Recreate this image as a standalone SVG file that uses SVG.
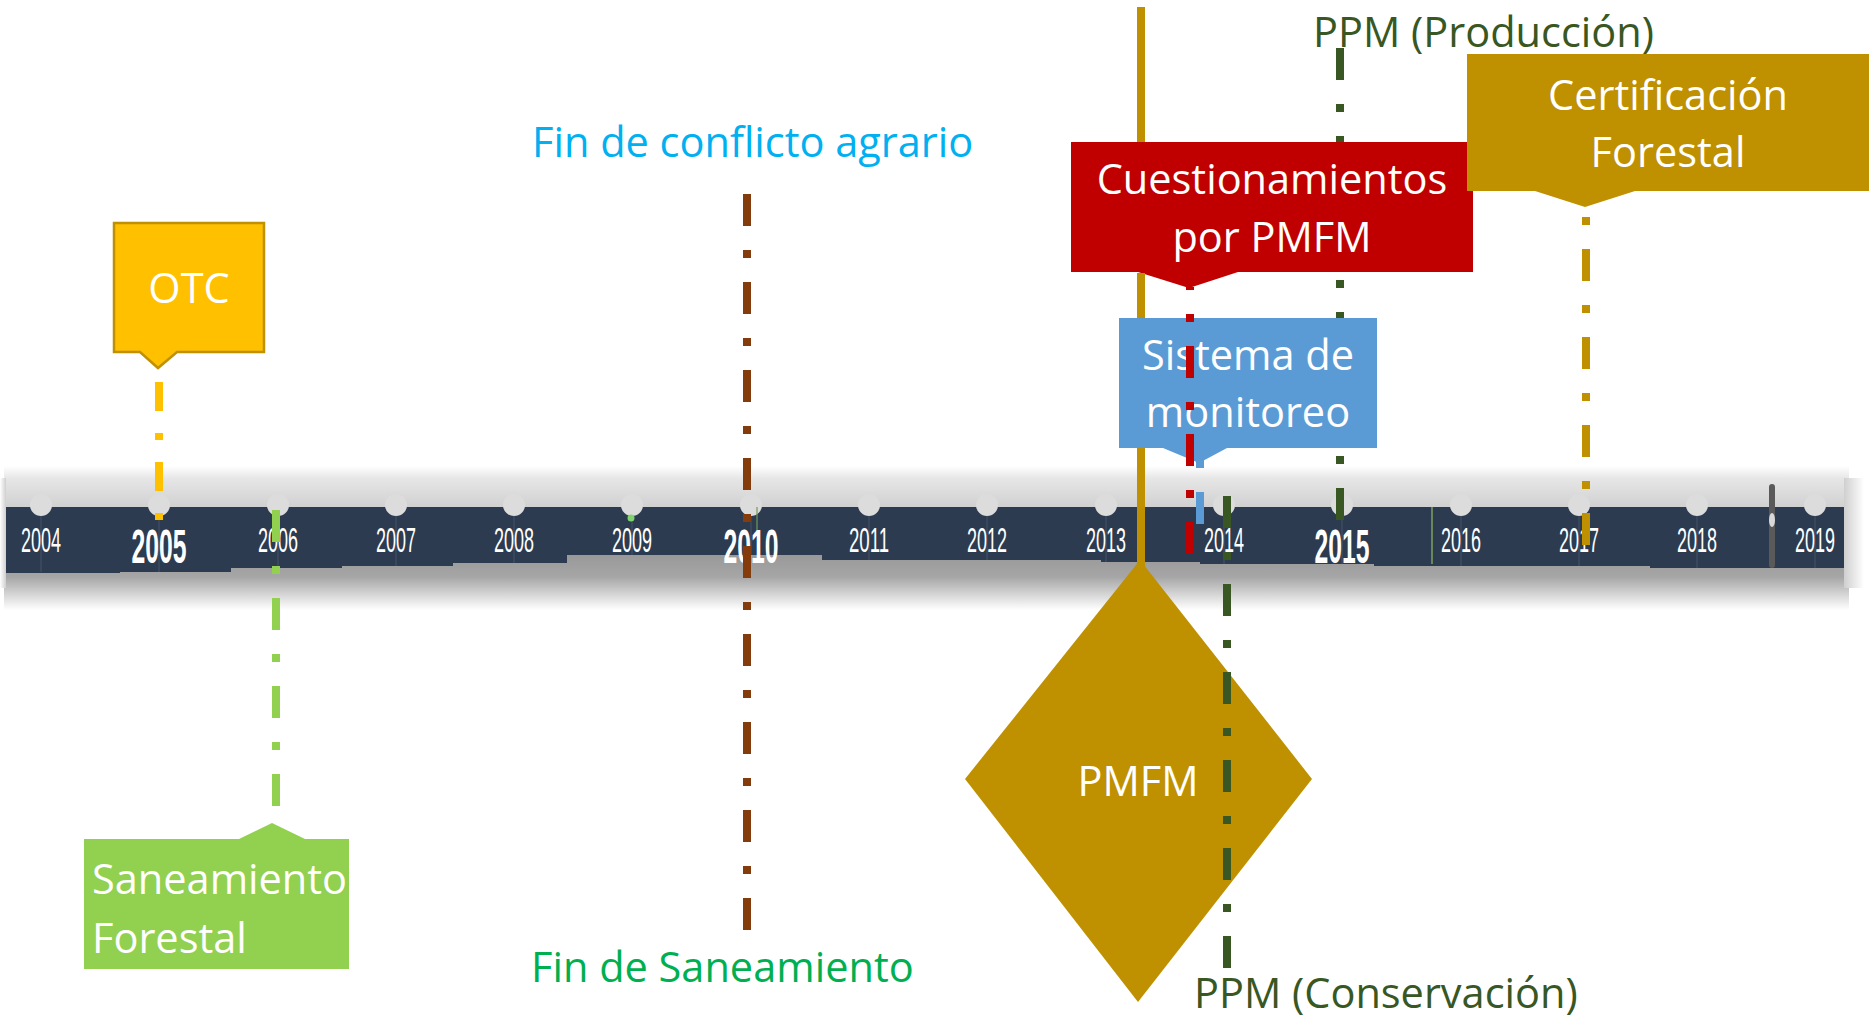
<svg xmlns="http://www.w3.org/2000/svg" width="1869" height="1019" viewBox="0 0 1869 1019">
<defs>
<linearGradient id="topGrad" x1="0" y1="0" x2="0" y2="1">
<stop offset="0" stop-color="#ffffff"/>
<stop offset="0.3" stop-color="#e6e6e6"/>
<stop offset="1" stop-color="#d0d0d0"/>
</linearGradient>
<linearGradient id="shadowGrad" x1="0" y1="0" x2="0" y2="1">
<stop offset="0" stop-color="#969696"/>
<stop offset="0.45" stop-color="#a6a6a6"/>
<stop offset="0.72" stop-color="#d2d2d2"/>
<stop offset="1" stop-color="#ffffff"/>
</linearGradient>
<linearGradient id="endGrad" x1="0" y1="0" x2="1" y2="0">
<stop offset="0" stop-color="#cfcfcf"/>
<stop offset="1" stop-color="#ffffff"/>
</linearGradient>
<linearGradient id="startGrad" x1="1" y1="0" x2="0" y2="0">
<stop offset="0" stop-color="#cfcfcf"/>
<stop offset="1" stop-color="#ffffff"/>
</linearGradient>
</defs>
<style>
.lbl{font-family:"Open Sans","Noto Sans","Liberation Sans",sans-serif;font-size:41.5px;}
.w{fill:#ffffff;}
.mid{text-anchor:middle;}
.yr{font-family:"Liberation Sans","DejaVu Sans",sans-serif;fill:#ffffff;text-anchor:middle;font-size:35px;}
.yrb{font-family:"Liberation Sans","DejaVu Sans",sans-serif;fill:#ffffff;text-anchor:middle;font-size:48px;font-weight:bold;}
.pin{fill:#dcdcdc;}
.tick{stroke:#46556a;stroke-width:1;}
.dd{fill:none;stroke-width:8;stroke-dasharray:32 24 8 24;}
</style>
<rect x="0" y="0" width="1869" height="1019" fill="#ffffff"/>

<g id="timeline-bar">
<rect x="4" y="550" width="1845" height="60" fill="url(#shadowGrad)"/>
<rect x="4" y="466" width="1845" height="42" fill="url(#topGrad)"/>
<rect x="1844" y="478" width="20" height="110" fill="url(#endGrad)"/>
<rect x="0" y="478" width="6" height="110" fill="url(#startGrad)"/>
<polygon fill="#2c3b50" points="6,507 1844,507 1844,568 1650,568 1650,566 1374,566 1374,564 1200,564 1200,562 1101,562 1101,560 822,560 822,555 567,555 567,563 453,563 453,566 342,566 342,568 231,568 231,572 120,572 120,573 6,573"/>
<g>
<line class="tick" x1="41" y1="515" x2="41" y2="572"/>
<line class="tick" x1="159" y1="515" x2="159" y2="572"/>
<line class="tick" x1="278" y1="515" x2="278" y2="568"/>
<line class="tick" x1="396" y1="515" x2="396" y2="566"/>
<line class="tick" x1="514" y1="515" x2="514" y2="563"/>
<line class="tick" x1="632" y1="515" x2="632" y2="555"/>
<line class="tick" x1="751" y1="515" x2="751" y2="555"/>
<line class="tick" x1="869" y1="515" x2="869" y2="560"/>
<line class="tick" x1="987" y1="515" x2="987" y2="560"/>
<line class="tick" x1="1106" y1="515" x2="1106" y2="562"/>
<line class="tick" x1="1224" y1="515" x2="1224" y2="564"/>
<line class="tick" x1="1342" y1="515" x2="1342" y2="564"/>
<line class="tick" x1="1461" y1="515" x2="1461" y2="566"/>
<line class="tick" x1="1579" y1="515" x2="1579" y2="566"/>
<line class="tick" x1="1697" y1="515" x2="1697" y2="568"/>
<line class="tick" x1="1815" y1="515" x2="1815" y2="568"/>
</g>
<g>
<circle class="pin" cx="41" cy="505" r="11"/>
<circle class="pin" cx="159" cy="505" r="11"/>
<circle class="pin" cx="278" cy="505" r="11"/>
<circle class="pin" cx="396" cy="505" r="11"/>
<circle class="pin" cx="514" cy="505" r="11"/>
<circle class="pin" cx="632" cy="505" r="11"/>
<circle class="pin" cx="751" cy="505" r="11"/>
<circle class="pin" cx="869" cy="505" r="11"/>
<circle class="pin" cx="987" cy="505" r="11"/>
<circle class="pin" cx="1106" cy="505" r="11"/>
<circle class="pin" cx="1224" cy="505" r="11"/>
<circle class="pin" cx="1342" cy="505" r="11"/>
<circle class="pin" cx="1461" cy="505" r="11"/>
<circle class="pin" cx="1579" cy="505" r="11"/>
<circle class="pin" cx="1697" cy="505" r="11"/>
<circle class="pin" cx="1815" cy="505" r="11"/>
</g>
<line x1="1432" y1="507" x2="1432" y2="564" stroke="#7ea35e" stroke-width="1.5"/>
<line x1="757" y1="507" x2="757" y2="536" stroke="#6f9a5a" stroke-width="1.2"/>
<circle cx="631" cy="518" r="3.5" fill="#7fd46c"/>
<rect x="1769" y="484" width="6" height="84" rx="3" fill="#5a5a5a"/>
<ellipse cx="1772" cy="520" rx="3" ry="7" fill="#d8d8d8"/>
<text class="yr" x="41" y="552" textLength="40" lengthAdjust="spacingAndGlyphs">2004</text>
<text class="yrb" x="159" y="563" textLength="55" lengthAdjust="spacingAndGlyphs">2005</text>
<text class="yr" x="278" y="552" textLength="40" lengthAdjust="spacingAndGlyphs">2006</text>
<text class="yr" x="396" y="552" textLength="40" lengthAdjust="spacingAndGlyphs">2007</text>
<text class="yr" x="514" y="552" textLength="40" lengthAdjust="spacingAndGlyphs">2008</text>
<text class="yr" x="632" y="552" textLength="40" lengthAdjust="spacingAndGlyphs">2009</text>
<text class="yrb" x="751" y="563" textLength="55" lengthAdjust="spacingAndGlyphs">2010</text>
<text class="yr" x="869" y="552" textLength="40" lengthAdjust="spacingAndGlyphs">2011</text>
<text class="yr" x="987" y="552" textLength="40" lengthAdjust="spacingAndGlyphs">2012</text>
<text class="yr" x="1106" y="552" textLength="40" lengthAdjust="spacingAndGlyphs">2013</text>
<text class="yr" x="1224" y="552" textLength="40" lengthAdjust="spacingAndGlyphs">2014</text>
<text class="yrb" x="1342" y="563" textLength="55" lengthAdjust="spacingAndGlyphs">2015</text>
<text class="yr" x="1461" y="552" textLength="40" lengthAdjust="spacingAndGlyphs">2016</text>
<text class="yr" x="1579" y="552" textLength="40" lengthAdjust="spacingAndGlyphs">2017</text>
<text class="yr" x="1697" y="552" textLength="40" lengthAdjust="spacingAndGlyphs">2018</text>
<text class="yr" x="1815" y="552" textLength="40" lengthAdjust="spacingAndGlyphs">2019</text>
</g>

<g id="node-otc">
<path d="M114,223 H264 V352 H177 L158,368 L140,352 H114 Z" fill="#FFC000" stroke="#BF9000" stroke-width="2.5"/>
<text class="lbl w mid" x="189" y="303">OTC</text>
</g>

<g id="node-saneamiento-forestal">
<path d="M84,839 H239 L272,823 L305,839 H349 V969 H84 Z" fill="#92D050"/>
<text class="lbl w" x="92" y="894">Saneamiento</text>
<text class="lbl w" x="92" y="953">Forestal</text>
</g>

<g id="node-fin-conflicto">
<text class="lbl" x="532" y="157" fill="#00B0F0">Fin de conflicto agrario</text>
</g>

<g id="node-fin-saneamiento">
<text class="lbl" x="531" y="982" fill="#00B050">Fin de Saneamiento</text>
</g>

<g id="node-pmfm">
<path d="M1140,560 L1312,779 L1138,1002 L965,779 Z" fill="#BF9000"/>
<text class="lbl w mid" x="1138" y="796">PMFM</text>
</g>

<g id="node-cuestionamientos">
<path d="M1071,142 H1473 V272 H1238 L1189,288 L1138,272 H1071 Z" fill="#C00000"/>
<text class="lbl w mid" x="1272" y="194">Cuestionamientos</text>
<text class="lbl w mid" x="1272" y="252">por PMFM</text>
</g>

<g id="node-sistema-monitoreo">
<path d="M1119,318 H1377 V448 H1227 L1199,463 L1163,448 H1119 Z" fill="#5B9BD5"/>
<text class="lbl w mid" x="1248" y="370">Sistema de</text>
<text class="lbl w mid" x="1248" y="427">monitoreo</text>
</g>

<g id="node-certificacion">
<path d="M1467,54 H1869 V191 H1635 L1585,207 L1535,191 H1467 Z" fill="#BF9000"/>
<text class="lbl w mid" x="1668" y="110">Certificación</text>
<text class="lbl w mid" x="1668" y="167">Forestal</text>
</g>

<g id="node-ppm-produccion">
<text class="lbl" x="1313" y="47" fill="#385723">PPM (Producción)</text>
</g>

<g id="node-ppm-conservacion">
<text class="lbl" x="1194" y="1008" fill="#385723">PPM (Conservación)</text>
</g>

<g id="connectors">
<line x1="1141" y1="7" x2="1141" y2="142" stroke="#BF9000" stroke-width="8"/>
<line x1="1141" y1="273" x2="1141" y2="318" stroke="#BF9000" stroke-width="8"/>
<line x1="1141" y1="448" x2="1141" y2="566" stroke="#BF9000" stroke-width="8"/>
<line class="dd" x1="159" y1="382" x2="159" y2="521" stroke="#FFC000" stroke-width="7" style="stroke-dasharray:29 22 7 22"/>
<line class="dd" x1="276" y1="510" x2="276" y2="806" stroke="#92D050"/>
<line class="dd" x1="747" y1="194" x2="747" y2="930" stroke="#843C0C"/>
<line class="dd" x1="1340" y1="48" x2="1340" y2="142" stroke="#385723"/>
<line class="dd" x1="1340" y1="272" x2="1340" y2="318" stroke="#385723" stroke-dashoffset="48"/>
<line class="dd" x1="1340" y1="448" x2="1340" y2="520" stroke="#385723" stroke-dashoffset="48"/>
<line class="dd" x1="1586" y1="217" x2="1586" y2="546" stroke="#BF9000" stroke-dashoffset="56"/>
<line class="dd" x1="1200" y1="460" x2="1200" y2="525" stroke="#5B9BD5" stroke-dashoffset="56"/>
<line class="dd" x1="1190" y1="287" x2="1190" y2="554" stroke="#C00000" stroke-dashoffset="29"/>
<line class="dd" x1="1227" y1="496" x2="1227" y2="968" stroke="#385723"/>
</g>
</svg>
